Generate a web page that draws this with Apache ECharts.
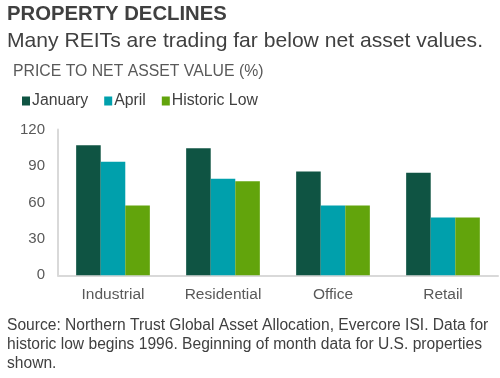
<!DOCTYPE html>
<html>
<head>
<meta charset="utf-8">
<script src="https://cdn.jsdelivr.net/npm/echarts@6/dist/echarts.min.js"></script>
<style>html,body{margin:0;padding:0;background:#fff}#c{width:500px;height:378px}</style>
</head>
<body>
<div id="c"></div>
<script>
var categories = ['Industrial', 'Residential', 'Office', 'Retail'];
var january = [107, 104.5, 85.5, 84.5];
var april = [93.5, 79.5, 57.5, 47.5];
var historicLow = [57.5, 77.5, 57.5, 47.5];
var seriesNames = ['January', 'April', 'Historic Low'];
var yTicks = [0, 30, 60, 90, 120];

var FONT = '"Liberation Sans", Arial, sans-serif';
var chart = echarts.init(document.getElementById('c'), null, {renderer: 'canvas'});
var colors = ['#0f5443', '#00a0ac', '#62a40c'];
var option = {
  animation: false,
  textStyle: {fontFamily: FONT},
  graphic: [
    {type: 'text', left: 7, top: 4, style: {text: 'PROPERTY DECLINES', font: 'bold 20.3px ' + FONT, fill: '#404040'}},
    {type: 'text', left: 7, top: 31, style: {text: 'Many REITs are trading far below net asset values.', font: '21.1px ' + FONT, fill: '#404040'}},
    {type: 'text', left: 13, top: 64, style: {text: 'PRICE TO NET ASSET VALUE (%)', font: '15.8px ' + FONT, fill: '#595959'}},
    {type: 'text', left: 7, top: 316, style: {text: 'Source: Northern Trust Global Asset Allocation, Evercore ISI. Data for\nhistoric low begins 1996. Beginning of month data for U.S. properties\nshown.', font: '15.6px ' + FONT, fill: '#404040', lineHeight: 19}}
  ],
  legend: {
    left: 17, top: 88,
    itemWidth: 8, itemHeight: 9, itemGap: 16,
    icon: 'rect',
    textStyle: {fontSize: 15.8, color: '#404040', fontFamily: FONT, padding: [0, 0, 0, -3]},
    data: seriesNames
  },
  grid: {left: 58, right: 2, top: 129.5, bottom: 102.7},
  xAxis: {
    type: 'category', data: categories,
    axisLine: {lineStyle: {color: '#d9d9d9', width: 2}},
    axisTick: {show: false},
    axisLabel: {fontSize: 15.5, color: '#595959', margin: 11, fontFamily: FONT}
  },
  yAxis: {
    type: 'value', min: yTicks[0], max: yTicks[yTicks.length - 1], interval: 30,
    axisLine: {show: true, lineStyle: {color: '#d9d9d9', width: 2}},
    axisTick: {show: false},
    splitLine: {show: false},
    axisLabel: {fontSize: 15, color: '#595959', margin: 13, fontFamily: FONT}
  },
  series: [
    {name: seriesNames[0], type: 'bar', data: january, itemStyle: {color: colors[0]}, barGap: '0%', barCategoryGap: '33%'},
    {name: seriesNames[1], type: 'bar', data: april, itemStyle: {color: colors[1]}, barGap: '0%', barCategoryGap: '33%'},
    {name: seriesNames[2], type: 'bar', data: historicLow, itemStyle: {color: colors[2]}, barGap: '0%', barCategoryGap: '33%'}
  ]
};
chart.setOption(option);
</script>
</body>
</html>
